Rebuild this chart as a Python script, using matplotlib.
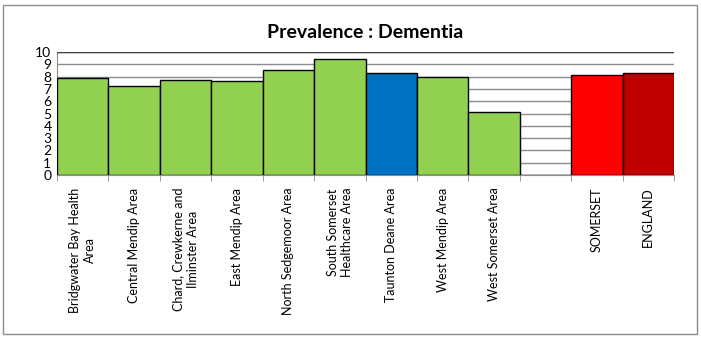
import matplotlib
matplotlib.use("Agg")
import matplotlib.pyplot as plt
import numpy as np
from matplotlib.patches import Rectangle

plt.rcParams['font.family'] = ['Lato', 'DejaVu Sans']

labels = ["Bridgwater Bay Health\nArea", "Central Mendip Area", "Chard, Crewkerne and\nIlminster Area",
          "East Mendip Area", "North Sedgemoor Area", "South Somerset\nHealthcare Area",
          "Taunton Deane Area", "West Mendip Area", "West Somerset Area", "",
          "SOMERSET", "ENGLAND"]
values = [7.9, 7.25, 7.7, 7.65, 8.55, 9.45, 8.3, 8.0, 5.1, np.nan, 8.1, 8.3]
colors = ["#92D050"] * 6 + ["#0070C0"] + ["#92D050"] * 2 + ["white", "#FF0000", "#C00000"]

fig = plt.figure(figsize=(7.01, 3.37), dpi=100)
fig.patches.append(Rectangle((0.004, 0.01), 0.991, 0.975, transform=fig.transFigure,
                             fill=False, edgecolor="#8c8c8c", linewidth=1))
ax = fig.add_axes([0.0813, 0.4807, 0.8802, 0.365])

x = np.arange(len(labels))
vals = [0 if np.isnan(v) else v for v in values]
ax.bar(x, vals, width=1.0, color=colors, edgecolor="black", linewidth=1, zorder=3)

ax.set_xlim(-0.5, len(labels) - 0.5)
ax.set_ylim(0, 10)
ax.set_yticks(range(0, 11))
ax.yaxis.grid(True, color="#8c8c8c", linewidth=1, zorder=0)
ax.tick_params(axis='y', length=0, labelsize=10, pad=4)

ax.set_xticks(x)
ax.set_xticklabels(labels, rotation=90, fontsize=9, va='top', ha='center',
                   multialignment='center', linespacing=1.25)
ax.tick_params(axis='x', length=0, pad=9)
ax.set_xticks(np.arange(-0.5, len(labels)), minor=True)
ax.tick_params(axis='x', which='minor', length=4, color="#8c8c8c", direction='out')

for s in ['top', 'right']:
    ax.spines[s].set_visible(False)
ax.spines['left'].set_color("#8c8c8c")
ax.spines['bottom'].set_color("#8c8c8c")
ax.axhline(10, color="#404040", linewidth=1, zorder=4)

ax.set_title("Prevalence : Dementia", fontsize=14, fontweight='bold', pad=10)

fig.savefig("out.png", dpi=100)
